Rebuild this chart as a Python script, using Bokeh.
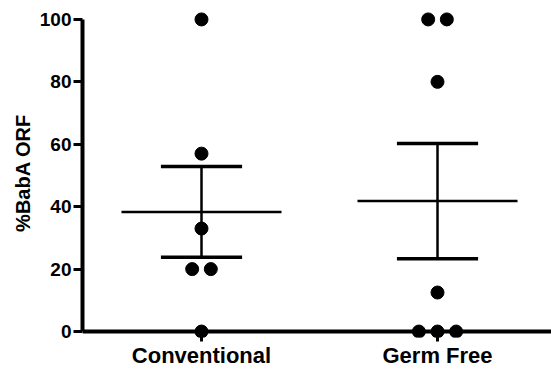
import numpy as np
from bokeh.plotting import figure
from bokeh.models import Range1d, FixedTicker, Span
from bokeh.embed import file_html
from bokeh.resources import INLINE

# ---- data ----
categories = ["Conventional", "Germ Free"]
conventional = [100, 57, 33, 20, 20, 0]
germ_free = [100, 100, 80, 12.5, 0, 0, 0]
y_ticks = [0, 20, 40, 60, 80, 100]
y_label = "%BabA ORF"

groups = [conventional, germ_free]
FONT = "Liberation Sans"

# jitter duplicated values side by side (like a scatter dot plot)
spacing = 0.079
px, py = [], []
for gi, vals in enumerate(groups):
    center = gi + 1
    counts = {}
    for v in vals:
        counts[v] = counts.get(v, 0) + 1
    seen = {}
    for v in vals:
        k = counts[v]
        i = seen.get(v, 0)
        seen[v] = i + 1
        px.append(center + (i - (k - 1) / 2) * spacing)
        py.append(v)

centers = [i + 1 for i in range(len(groups))]
means = [float(np.mean(g)) for g in groups]
sems = [float(np.std(g, ddof=1) / np.sqrt(len(g))) for g in groups]

mean_hw = 0.339
cap_hw = 0.172

p = figure(width=551, height=370,
           x_range=Range1d(0.4958, 2.483), y_range=Range1d(-1.91, 103.5),
           output_backend="svg", toolbar_location=None,
           min_border_left=82, min_border_right=0, min_border_top=8,
           min_border_bottom=31, outline_line_color=None)
p.xgrid.visible = False
p.ygrid.visible = False

# x axis line at y = 0
p.add_layout(Span(location=0, dimension="width", line_color="black", line_width=4))

# mean lines
p.segment(x0=[c - mean_hw for c in centers], x1=[c + mean_hw for c in centers],
          y0=means, y1=means, line_color="black", line_width=2.5)
# SEM stems
p.segment(x0=centers, x1=centers,
          y0=[m - s for m, s in zip(means, sems)], y1=[m + s for m, s in zip(means, sems)],
          line_color="black", line_width=2.5)
# SEM caps
for sign in (1, -1):
    p.segment(x0=[c - cap_hw for c in centers], x1=[c + cap_hw for c in centers],
              y0=[m + sign * s for m, s in zip(means, sems)],
              y1=[m + sign * s for m, s in zip(means, sems)],
              line_color="black", line_width=3.5)

# points
p.scatter(px, py, size=13, color="black")

# y axis
ya = p.yaxis[0]
ya.bounds = (0, 100)
ya.ticker = FixedTicker(ticks=y_ticks)
ya.axis_line_width = 4
ya.major_tick_line_width = 3
ya.major_tick_out = 9
ya.major_tick_in = 0
ya.minor_tick_line_color = None
ya.major_label_text_font = FONT
ya.major_label_text_font_style = "bold"
ya.major_label_text_font_size = "19px"
ya.major_label_text_color = "black"
ya.major_label_standoff = 2
ya.axis_label = y_label
ya.axis_label_text_font = FONT
ya.axis_label_text_font_style = "bold"
ya.axis_label_text_font_size = "20px"
ya.axis_label_text_color = "black"
ya.axis_label_standoff = 3

# x axis (categories)
xa = p.xaxis[0]
xa.ticker = FixedTicker(ticks=centers)
xa.major_label_overrides = {c: name for c, name in zip(centers, categories)}
xa.axis_line_color = None
xa.major_tick_line_width = 3
xa.major_tick_in = 6
xa.major_tick_out = 4
xa.minor_tick_line_color = None
xa.major_label_text_font = FONT
xa.major_label_text_font_style = "bold"
xa.major_label_text_font_size = "22px"
xa.major_label_text_color = "black"
xa.major_label_standoff = 1

open("out.html", "w").write(file_html(p, INLINE))
